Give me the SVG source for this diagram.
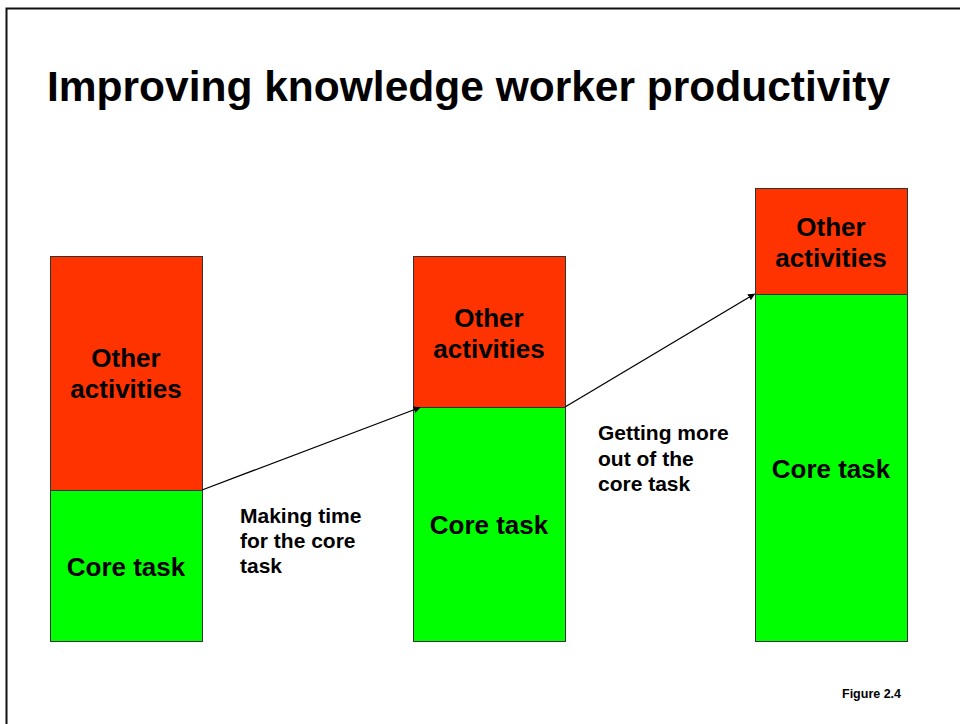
<svg xmlns="http://www.w3.org/2000/svg" width="960" height="724" viewBox="0 0 960 724">
  <defs>
    <style>
      text { font-family: "Liberation Sans", Arial, sans-serif; font-weight: bold; fill: #000; }
      .title { font-size: 42.5px; }
      .bar { font-size: 26px; text-anchor: middle; }
      .note { font-size: 21px; }
      .fig { font-size: 12.5px; }
      .other { fill: #FF3300; stroke: #333; stroke-width: 1; }
      .core { fill: #00FF00; stroke: #333; stroke-width: 1; }
      .conn { stroke: #000; stroke-width: 1.3; fill: none; marker-end: url(#arrow); }
    </style>
    <marker id="arrow" viewBox="0 0 10 10" refX="9" refY="5" markerWidth="7" markerHeight="7" orient="auto" markerUnits="userSpaceOnUse">
      <path d="M0,0 L10,5 L0,10 z" fill="#000"/>
    </marker>
  </defs>

  <rect x="0" y="0" width="960" height="724" fill="#fff"/>
  <!-- slide frame -->
  <rect x="6.5" y="8.5" width="970" height="730" fill="none" stroke="#111" stroke-width="2"/>

  <text class="title" x="47" y="101">Improving knowledge worker productivity</text>

  <g id="bar-before">
    <rect class="other" x="50.5" y="256.5" width="152" height="234"/>
    <rect class="core" x="50.5" y="490.5" width="152" height="151"/>
    <text class="bar" x="126" y="367">Other</text>
    <text class="bar" x="126" y="398">activities</text>
    <text class="bar" x="126" y="576">Core task</text>
  </g>

  <g id="bar-middle">
    <rect class="other" x="413.5" y="256.5" width="152" height="151"/>
    <rect class="core" x="413.5" y="407.5" width="152" height="234"/>
    <text class="bar" x="489" y="327">Other</text>
    <text class="bar" x="489" y="358">activities</text>
    <text class="bar" x="489" y="534">Core task</text>
  </g>

  <g id="bar-after">
    <rect class="other" x="755.5" y="188.5" width="152" height="106"/>
    <rect class="core" x="755.5" y="294.5" width="152" height="347"/>
    <text class="bar" x="831" y="236">Other</text>
    <text class="bar" x="831" y="267">activities</text>
    <text class="bar" x="831" y="478">Core task</text>
  </g>

  <g id="connectors">
    <line class="conn" x1="202" y1="490" x2="420" y2="407.5"/>
    <line class="conn" x1="565" y1="407" x2="754.5" y2="294"/>
  </g>

  <g id="notes">
    <text class="note" x="240" y="523">Making time</text>
    <text class="note" x="240" y="548">for the core</text>
    <text class="note" x="240" y="573">task</text>
    <text class="note" x="598" y="440">Getting more</text>
    <text class="note" x="598" y="466">out of the</text>
    <text class="note" x="598" y="491">core task</text>
  </g>

  <text class="fig" x="842" y="698">Figure 2.4</text>
</svg>
